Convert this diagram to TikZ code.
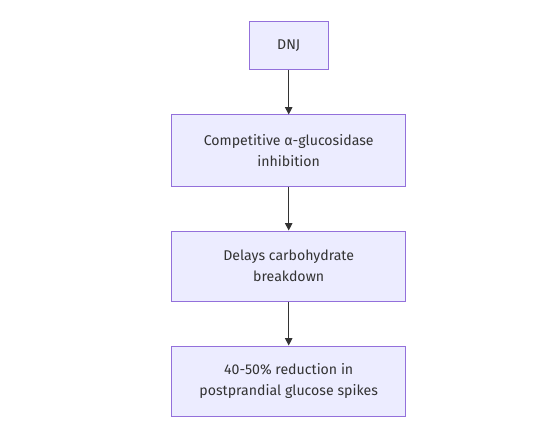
\documentclass[tikz,border=0pt]{standalone}
\usepackage{fontspec}
\setmainfont{Fira Sans}
\usetikzlibrary{arrows.meta}
\definecolor{boxfill}{HTML}{ECECFF}
\definecolor{boxdraw}{HTML}{9370DB}
\definecolor{txt}{HTML}{333333}
\definecolor{lin}{HTML}{333333}
\begin{document}
\begin{tikzpicture}[x=0.75pt,y=-0.75pt,
  box/.style={draw=boxdraw,fill=boxfill,line width=0.75pt,text=txt,align=center,
    font=\fontsize{10.6}{15.75}\selectfont,inner sep=0pt},
  conn/.style={draw=lin,line width=0.9pt,-{Triangle[length=5.5pt,width=5.5pt]}}]
\useasboundingbox[fill=white] (0,0) rectangle (550,435);
\node[box,minimum width=79*0.75pt,minimum height=48*0.75pt] (a) at (288.7,46) {DNJ};
\node[box,minimum width=234*0.75pt,minimum height=71*0.75pt] (b) at (288.7,150.5) {Competitive α-glucosidase\\inhibition};
\node[box,minimum width=234*0.75pt,minimum height=70*0.75pt] (c) at (288.7,266) {Delays carbohydrate\\breakdown};
\node[box,minimum width=234*0.75pt,minimum height=70*0.75pt] (d) at (288.7,381) {40-50\% reduction in\\postprandial glucose spikes};
\draw[conn] (a) -- (b);
\draw[conn] (b) -- (c);
\draw[conn] (c) -- (d);
\end{tikzpicture}
\end{document}
